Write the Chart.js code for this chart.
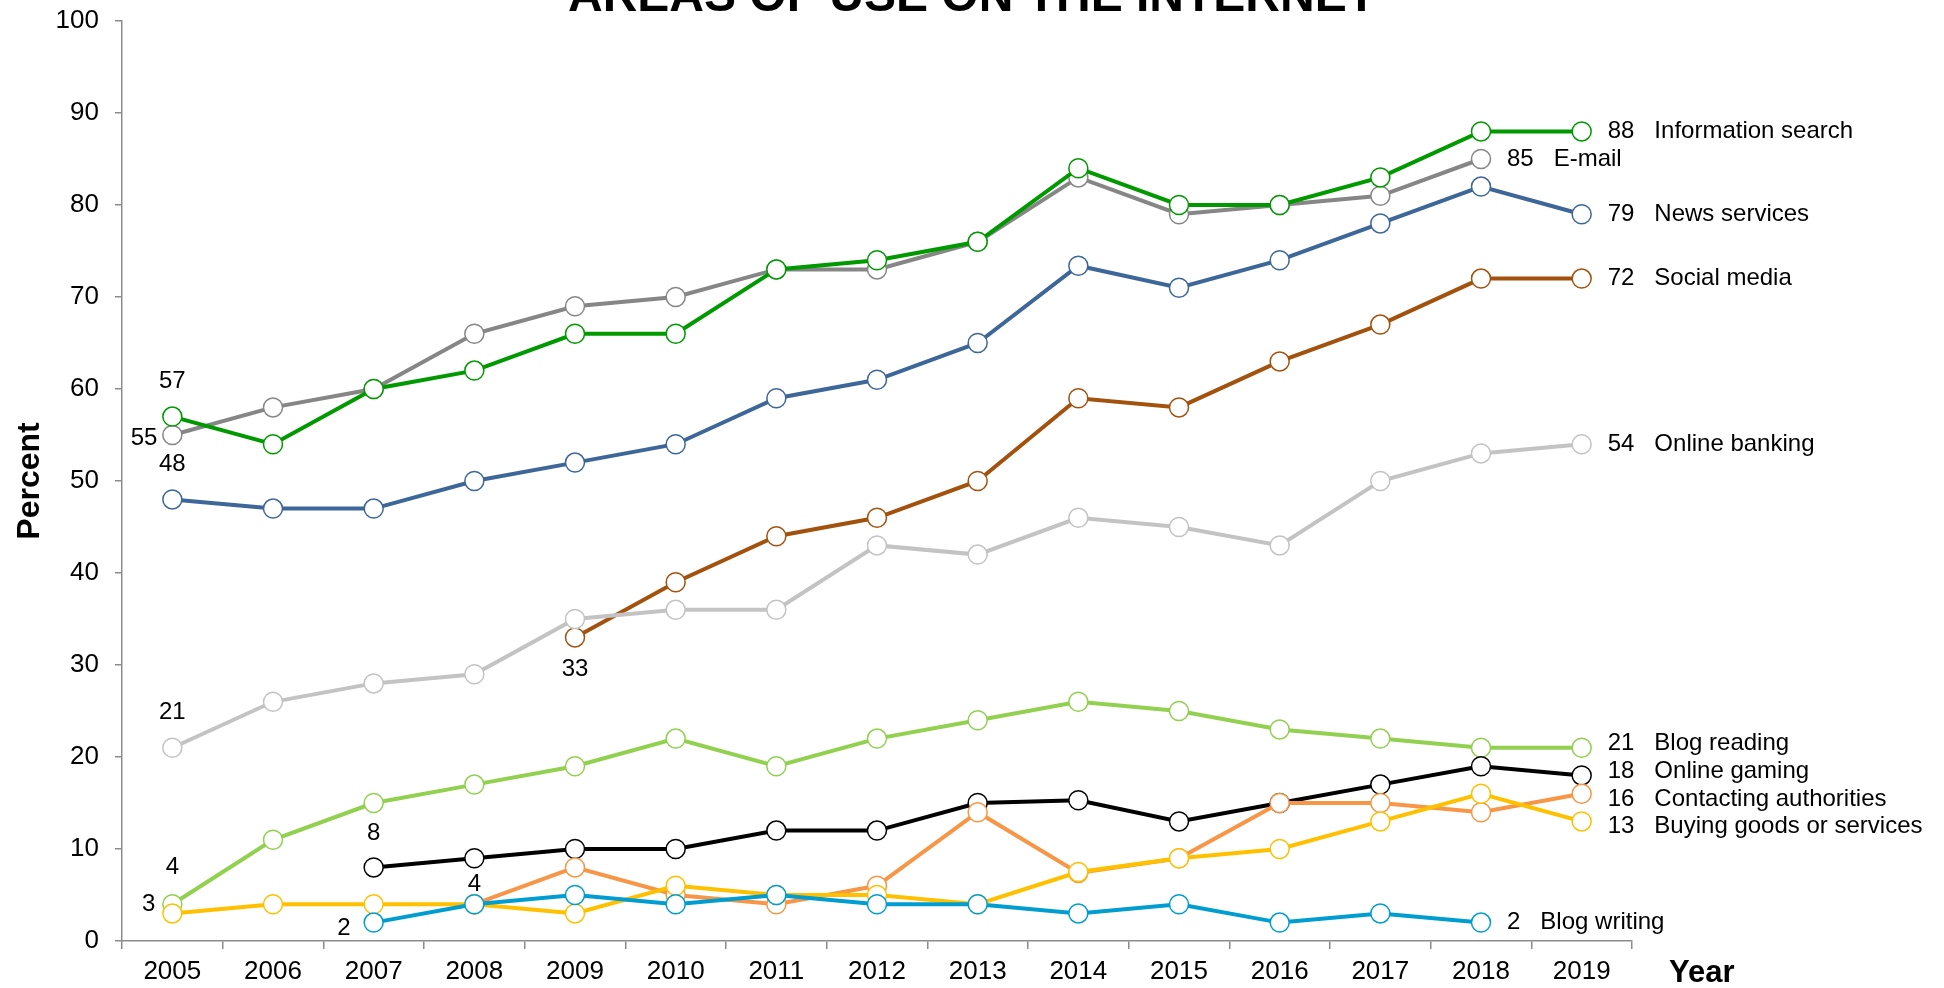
<!DOCTYPE html>
<html>
<head>
<meta charset="utf-8">
<script src="https://cdn.jsdelivr.net/npm/chart.js@4.4.1/dist/chart.umd.min.js"></script>
<style>
  html, body { margin: 0; padding: 0; background: #fff; }
  canvas { display: block; }
</style>
</head>
<body>
<canvas id="chart" width="1944" height="988"></canvas>
<script>
// years on the x axis
const years = ['2005', '2006', '2007', '2008', '2009', '2010', '2011', '2012', '2013', '2014', '2015', '2016', '2017', '2018', '2019'];

// percent of population using the internet for...
const infoSearch   = [57, 54, 60, 62, 66, 66, 73, 74, 76, 84, 80, 80, 83, 88, 88];
const email        = [55, 58, 60, 66, 69, 70, 73, 73, 76, 83, 79, 80, 81, 85, null];
const newsServices = [48, 47, 47, 50, 52, 54, 59, 61, 65, 73.4, 71, 74, 78, 82, 79];
const socialMedia  = [null, null, null, null, 33, 39, 44, 46, 50, 59, 58, 63, 67, 72, 72];
const onlineBank   = [21, 26, 28, 29, 35, 36, 36, 43, 42, 46, 45, 43, 50, 53, 54];
const blogReading  = [4, 11, 15, 17, 19, 22, 19, 22, 24, 26, 25, 23, 22, 21, 21];
const onlineGaming = [null, null, 8, 9, 10, 10, 12, 12, 15, 15.3, 13, 15, 17, 19, 18];
const authorities  = [null, null, null, 4, 8, 5, 4, 6, 14, 7.4, 9, 15, 15, 14, 16];
const buyingGoods  = [3, 4, 4, 4, 3, 6, 5, 5, 4, 7.5, 9, 10, 13, 16, 13];
const blogWriting  = [null, null, 2, 4, 5, 4, 5, 4, 4, 3, 4, 2, 3, 2, null];

const FONT = "'Liberation Sans', Arial, sans-serif";
Chart.defaults.font.family = FONT;

// first dataset is drawn on top
const series = [
  { name: 'Blog writing',               data: blogWriting,  color: '#009DD1' },
  { name: 'Buying goods or services',   data: buyingGoods,  color: '#FFC000' },
  { name: 'Contacting authorities',     data: authorities,  color: '#F79646' },
  { name: 'Online gaming',              data: onlineGaming, color: '#000000' },
  { name: 'Blog reading',               data: blogReading,  color: '#92D050' },
  { name: 'Online banking',             data: onlineBank,   color: '#C3C3C3' },
  { name: 'Social media',               data: socialMedia,  color: '#A3520E' },
  { name: 'News services',              data: newsServices, color: '#3D6699' },
  { name: 'Information search',         data: infoSearch,   color: '#009900' },
  { name: 'E-mail',                     data: email,        color: '#868686' }
];

// where the first-value label sits relative to its point
const firstLabelPos = {
  'Blog writing':             { dx: -23, dy: 6,   align: 'right' },
  'Buying goods or services': { dx: -17, dy: -9,  align: 'right' },
  'Contacting authorities':   { dx: 0,   dy: -20, align: 'center' },
  'Online gaming':            { dx: 0,   dy: -34, align: 'center' },
  'Blog reading':             { dx: 0,   dy: -37, align: 'center' },
  'Online banking':           { dx: 0,   dy: -35, align: 'center' },
  'Social media':             { dx: 0,   dy: 32,  align: 'center' },
  'News services':            { dx: 0,   dy: -35, align: 'center' },
  'Information search':       { dx: 0,   dy: -35, align: 'center' },
  'E-mail':                   { dx: -15, dy: 3,   align: 'right' }
};
// small vertical nudges for the crowded end labels
const lastLabelNudge = {
  'Blog reading': -4, 'Online gaming': -4, 'Contacting authorities': 6, 'Buying goods or services': 5
};

const seriesLabels = {
  id: 'seriesLabels',
  afterDatasetsDraw(chart) {
    const { ctx, scales: { x, y } } = chart;
    ctx.save();
    ctx.fillStyle = '#000';
    ctx.textBaseline = 'middle';
    ctx.font = '24px ' + FONT;
    chart.data.datasets.forEach(ds => {
      const vals = ds.data;
      const first = vals.findIndex(v => v !== null);
      let last = vals.length - 1;
      while (vals[last] === null) last--;

      const p = firstLabelPos[ds.label];
      ctx.textAlign = p.align;
      ctx.fillText(String(vals[first]), x.getPixelForValue(first) + p.dx, y.getPixelForValue(vals[first]) + p.dy);

      const lx = x.getPixelForValue(last) + 26;
      const ly = y.getPixelForValue(vals[last]) + (lastLabelNudge[ds.label] || 0);
      const valText = String(Math.round(vals[last]));
      ctx.textAlign = 'left';
      ctx.fillText(valText, lx, ly);
      ctx.fillText(ds.label, lx + ctx.measureText(valText).width + 20, ly);
    });

    // axis name for the years, at the end of the x axis
    ctx.font = 'bold 31px ' + FONT;
    ctx.textAlign = 'left';
    ctx.textBaseline = 'alphabetic';
    ctx.fillText('Year', 1669, 982);

    // chart title, partly above the page edge
    ctx.font = 'bold 48px ' + FONT;
    ctx.textAlign = 'center';
    ctx.fillText('AREAS OF USE ON THE INTERNET', 972, 11);
    ctx.restore();
  }
};

new Chart(document.getElementById('chart'), {
  type: 'line',
  data: {
    labels: years,
    datasets: series.map(s => ({
      label: s.name,
      data: s.data,
      borderColor: s.color,
      borderWidth: 4,
      pointRadius: 9.5,
      pointHoverRadius: 9.5,
      pointBorderWidth: 1.5,
      pointBorderColor: s.color,
      pointBackgroundColor: '#ffffff',
      tension: 0,
      fill: false
    }))
  },
  options: {
    responsive: false,
    animation: false,
    events: [],
    layout: { padding: { top: 21, right: 312, bottom: 0, left: 0 } },
    plugins: {
      legend: { display: false },
      tooltip: { enabled: false }
    },
    scales: {
      x: {
        offset: true,
        grid: { drawOnChartArea: false, offset: true, tickLength: 8, color: '#8c8c8c', lineWidth: 1.5 },
        border: { color: '#8c8c8c', width: 1.5 },
        ticks: { color: '#000', font: { size: 26 }, padding: 7, maxRotation: 0, autoSkip: false },
        afterFit(scale) { scale.height = 47; }
      },
      y: {
        min: 0,
        max: 100,
        grid: { drawOnChartArea: false, tickLength: 7, color: '#8c8c8c', lineWidth: 1.5 },
        border: { color: '#8c8c8c', width: 1.5 },
        ticks: { stepSize: 10, color: '#000', font: { size: 26 }, padding: 16 },
        title: {
          display: true,
          text: 'Percent',
          color: '#000',
          font: { size: 32, weight: 'bold' },
          padding: { top: 11, bottom: 0 }
        },
        afterFit(scale) {
          scale.width = 122;
          scale.paddingTop = 15;
          scale.paddingBottom = 15;
        }
      }
    }
  },
  plugins: [seriesLabels]
});
</script>
</body>
</html>
